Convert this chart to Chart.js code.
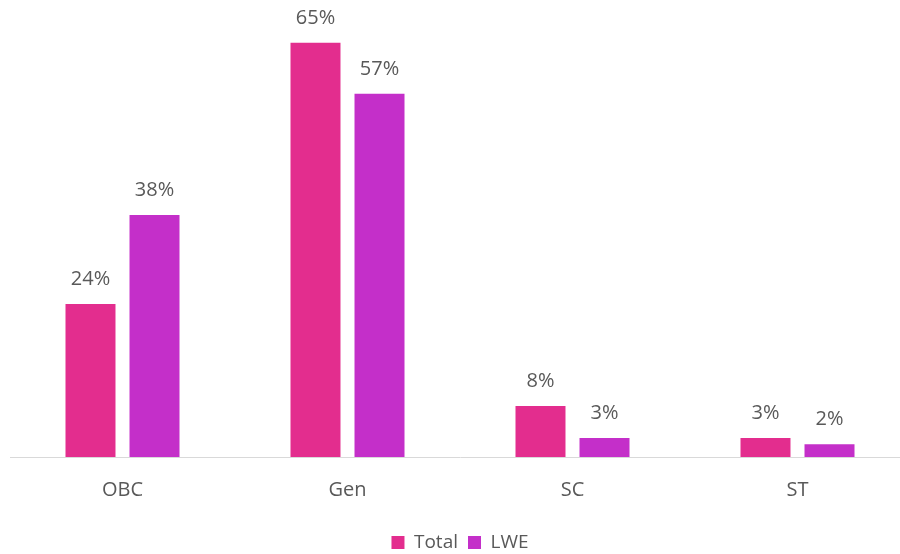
<!DOCTYPE html>
<html>
<head>
<meta charset="utf-8">
<script src="https://cdn.jsdelivr.net/npm/chart.js@4"></script>
<style>
  html, body { margin: 0; padding: 0; background: #fff; overflow: hidden; }
  #wrap { width: 920px; height: 554px; }
</style>
</head>
<body>
<div id="wrap"><canvas id="chart"></canvas></div>
<script>
const categories = ["OBC", "Gen", "SC", "ST"];
const totalValues = [24, 65, 8, 3];
const lweValues = [38, 57, 3, 2];

const textColor = "#595959";
const fontFamily = "'Open Sans', 'Liberation Sans', sans-serif";

// draws the "NN%" text above each bar
const barLabels = {
  id: "barLabels",
  afterDatasetsDraw(chart) {
    const ctx = chart.ctx;
    ctx.save();
    ctx.font = "20px " + fontFamily;
    ctx.fillStyle = textColor;
    ctx.textAlign = "center";
    ctx.textBaseline = "middle";
    chart.data.datasets.forEach((ds, i) => {
      chart.getDatasetMeta(i).data.forEach((bar, j) => {
        ctx.fillText(ds.data[j] + "%", bar.x, bar.y - 25);
      });
    });
    ctx.restore();
  },
};

new Chart(document.getElementById("chart"), {
  type: "bar",
  data: {
    labels: categories,
    datasets: [
      {
        label: "Total",
        data: totalValues,
        backgroundColor: "#E32D8E",
        barPercentage: 0.781,
        categoryPercentage: 0.569,
      },
      {
        label: "LWE",
        data: lweValues,
        backgroundColor: "#C42FC9",
        barPercentage: 0.781,
        categoryPercentage: 0.569,
      },
    ],
  },
  options: {
    responsive: true,
    maintainAspectRatio: false,
    animation: false,
    layout: {
      padding: { left: 10, right: 10, top: 11, bottom: -8 },
    },
    plugins: {
      legend: {
        display: true,
        position: "bottom",
        labels: {
          boxWidth: 13,
          boxHeight: 13,
          padding: 10,
          color: textColor,
          font: { size: 19, family: fontFamily },
        },
      },
      tooltip: { enabled: false },
    },
    scales: {
      y: {
        display: false,
        min: 0,
        max: 70,
      },
      x: {
        grid: { display: false, drawTicks: false },
        border: { color: "#D9D9D9", width: 1 },
        ticks: {
          color: textColor,
          padding: 21,
          font: { size: 20, family: fontFamily },
        },
      },
    },
  },
  plugins: [barLabels],
});
</script>
</body>
</html>
